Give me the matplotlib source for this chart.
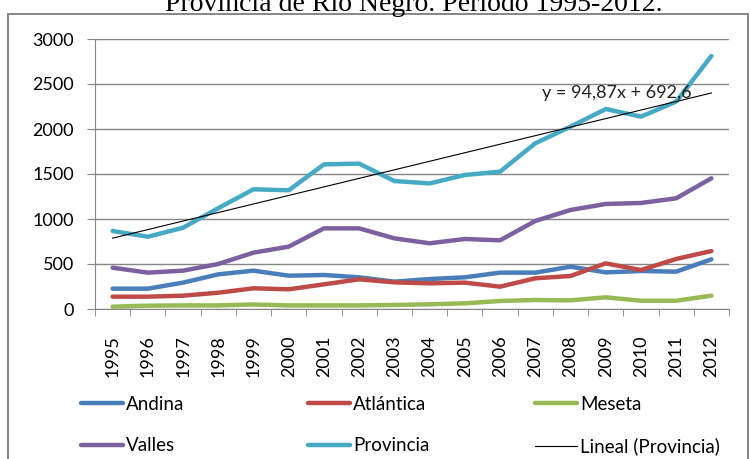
import matplotlib.pyplot as plt
from matplotlib.patches import Rectangle

years = [str(y) for y in range(1995, 2013)]
andina = [226, 226, 293, 385, 426, 370, 378, 352, 304, 333, 352, 404, 404, 470, 407, 422, 415, 552]
atlantica = [137, 137, 148, 181, 230, 219, 274, 330, 296, 285, 293, 248, 341, 367, 507, 433, 556, 644]
meseta = [26, 37, 40, 40, 50, 40, 40, 40, 45, 52, 63, 89, 100, 96, 130, 92, 92, 148]
valles = [459, 404, 426, 500, 626, 693, 896, 896, 785, 730, 778, 763, 978, 1100, 1167, 1178, 1230, 1452]
provincia = [867, 803, 903, 1120, 1330, 1319, 1607, 1615, 1422, 1395, 1489, 1526, 1841, 2026, 2222, 2137, 2304, 2811]
trend_slope, trend_icpt = 94.87, 692.6

plt.rcParams['font.family'] = ['Lato', 'DejaVu Sans']

fig = plt.figure(figsize=(7.5, 4.59), dpi=100)
fig.patches.append(Rectangle((8 / 750, -0.1), 740 / 750, 1.1 - 14.5 / 459, transform=fig.transFigure,
                             fill=False, edgecolor='#868686', linewidth=1.4))
fig.text(414 / 750, 1 - 11 / 459, 'Provincia de Río Negro. Período 1995-2012.', ha='center',
         va='baseline', fontsize=20, family='Liberation Serif')

ax = fig.add_axes([95 / 750, 1 - 309 / 459, 634 / 750, 270 / 459])
x = list(range(len(years)))
series = [('Andina', andina, '#4A7EBB'), ('Atlántica', atlantica, '#BE4B48'),
          ('Meseta', meseta, '#98B954'), ('Valles', valles, '#7D60A0'),
          ('Provincia', provincia, '#46AAC5')]
handles = {}
for name, vals, col in series:
    handles[name], = ax.plot(x, vals, color=col, lw=3.2, solid_capstyle='round', label=name)
trend = [trend_slope * (i + 1) + trend_icpt for i in x]
handles['Lineal (Provincia)'], = ax.plot(x, trend, color='black', lw=0.8, label='Lineal (Provincia)')
ax.text(12.2, 2400, 'y = 94,87x + 692,6', fontsize=13, va='center', ha='left', color='#222222')

ax.set_xlim(-0.5, 17.5)
ax.set_ylim(0, 3000)
ax.set_yticks(range(0, 3001, 500))
ax.set_xticks(x)
ax.set_xticklabels(years, rotation=90, fontsize=13, va='top')
ax.set_xticks([i - 0.5 for i in range(19)], minor=True)
ax.tick_params(axis='x', which='major', length=0, pad=19)
ax.tick_params(axis='x', which='minor', length=5, color='#868686')
ax.tick_params(axis='y', length=6, color='#868686', labelsize=13, pad=9)
ax.grid(axis='y', color='#868686', lw=1)
ax.set_axisbelow(True)
for s in ['top', 'right']:
    ax.spines[s].set_visible(False)
for s in ['left', 'bottom']:
    ax.spines[s].set_color('#868686')

cols = [(['Andina', 'Valles'], 81), (['Atlántica', 'Provincia'], 308), (['Meseta', 'Lineal (Provincia)'], 535)]
for names, xp in cols:
    fig.legend([handles[n] for n in names], names, loc='upper left',
               bbox_to_anchor=(xp / 750, 1 - 396 / 459), frameon=False, fontsize=13.5,
               handlelength=2.25, handletextpad=0.15, labelspacing=1.3, borderpad=0,
               borderaxespad=0)

fig.savefig('out.png', dpi=100)
